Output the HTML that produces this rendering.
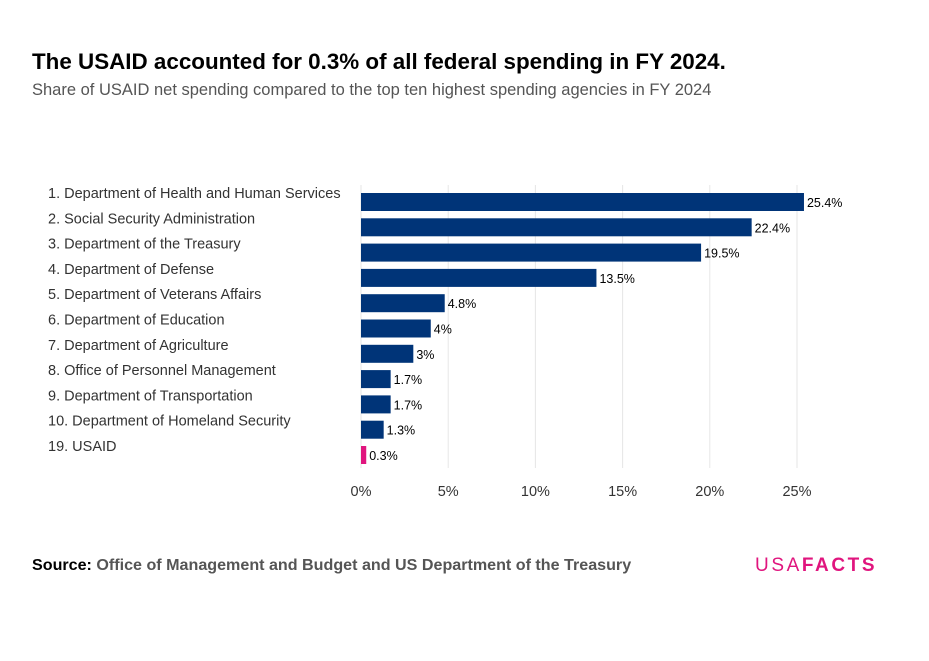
<!DOCTYPE html>
<html><head><meta charset="utf-8"><style>
body{margin:0;background:#fff;font-family:"Liberation Sans",sans-serif;}
#wrap{position:relative;width:929px;height:661px;overflow:hidden;}
.t{position:absolute;white-space:nowrap;}
</style></head><body>
<div id="wrap">
<div class="t" style="left:32px;top:49px;font-size:22.4px;font-weight:bold;color:#000;">The USAID accounted for 0.3% of all federal spending in FY 2024.</div>
<div class="t" style="left:32px;top:81px;font-size:16.5px;color:#555;">Share of USAID net spending compared to the top ten highest spending agencies in FY 2024</div>
<svg id="chart" width="929" height="661" style="position:absolute;left:0;top:0"></svg>
<div class="t" style="left:32px;top:556px;font-size:16.1px;font-weight:bold;color:#555;"><span style="color:#000">Source:</span> Office of Management and Budget and US Department of the Treasury</div>
<div class="t" style="left:755px;top:555px;font-size:19px;color:#e0157e;letter-spacing:2.6px;">USA<b>FACTS</b></div>
</div>
<script>
const categories=["1. Department of Health and Human Services","2. Social Security Administration","3. Department of the Treasury","4. Department of Defense","5. Department of Veterans Affairs","6. Department of Education","7. Department of Agriculture","8. Office of Personnel Management","9. Department of Transportation","10. Department of Homeland Security","19. USAID"];
const values=[25.4,22.4,19.5,13.5,4.8,4,3,1.7,1.7,1.3,0.3];
const valueLabels=["25.4%","22.4%","19.5%","13.5%","4.8%","4%","3%","1.7%","1.7%","1.3%","0.3%"];
const ticks=[0,5,10,15,20,25];
const tickLabels=["0%","5%","10%","15%","20%","25%"];
const svg=document.getElementById('chart');
const NS='http://www.w3.org/2000/svg';
const x=v=>361+v*17.44;
const y=i=>193+i*25.3;
function mk(tag,a){const e=document.createElementNS(NS,tag);for(const k in a)e.setAttribute(k,a[k]);svg.appendChild(e);return e;}
ticks.forEach((t,i)=>{
 const g=mk('line',{x1:x(t),x2:x(t),y1:185,y2:468,stroke:'#e6e6e6','stroke-width':1});
 
 
 const tx=mk('text',{x:x(t),y:496,'text-anchor':'middle','font-size':14.5,fill:'#333','font-family':'Liberation Sans, sans-serif'});
 tx.textContent=tickLabels[i];
 
 
});
categories.forEach((c,i)=>{
 const l=mk('text',{x:48,y:y(i)+5,'font-size':14.5,fill:'#333','font-family':'Liberation Sans, sans-serif'});
 l.textContent=c;
 
 
 const b=mk('rect',{x:x(0),y:y(i),width:x(values[i])-x(0),height:18,fill:i===10?'#e0157e':'#003478'});
 
 
 const v=mk('text',{x:x(values[i])+3,y:y(i)+14,'font-size':12.5,fill:'#000','font-family':'Liberation Sans, sans-serif'});
 v.textContent=valueLabels[i];
 
 
});
</script>
</body></html>
